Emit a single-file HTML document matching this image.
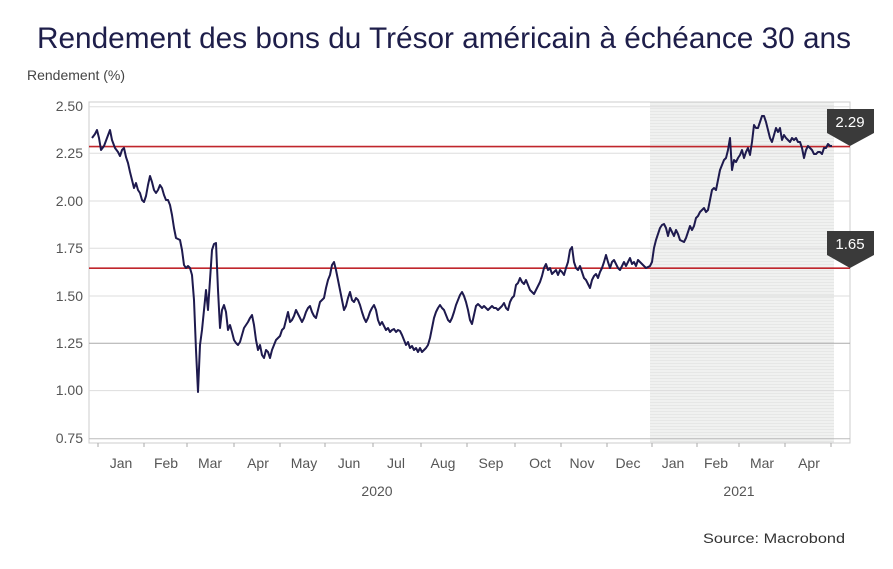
<!DOCTYPE html>
<html><head><meta charset="utf-8"><style>
body{margin:0;background:#fff;}
svg{display:block;font-family:"Liberation Sans",sans-serif;}
</style></head><body>
<svg width="893" height="569" viewBox="0 0 893 569" xmlns="http://www.w3.org/2000/svg">
<defs>
<pattern id="st" width="4" height="3" patternUnits="userSpaceOnUse"><rect width="4" height="3" fill="#f0f1f0"/><rect width="4" height="1" fill="#e6e7e6"/></pattern>
</defs>
<rect width="893" height="569" fill="#fff"/>
<text x="37" y="48" textLength="814" lengthAdjust="spacingAndGlyphs" font-size="30" fill="#1e1e4a">Rendement des bons du Trésor américain à échéance 30 ans</text>
<text x="27" y="80" font-size="14" fill="#444">Rendement (%)</text>
<rect x="650" y="102" width="184" height="341" fill="url(#st)"/>
<rect x="89" y="102" width="761" height="341" fill="none" stroke="#ccc" stroke-width="1"/>
<g stroke="#ddd" stroke-width="1">
<line x1="89" x2="850" y1="106.7" y2="106.7"/>
<line x1="89" x2="850" y1="153.3" y2="153.3"/>
<line x1="89" x2="850" y1="201" y2="201"/>
<line x1="89" x2="850" y1="248.3" y2="248.3"/>
<line x1="89" x2="850" y1="296" y2="296"/>
<line x1="89" x2="850" y1="343.2" y2="343.2" stroke="#aaa"/>
<line x1="89" x2="850" y1="390.6" y2="390.6"/>
<line x1="89" x2="850" y1="438.7" y2="438.7" stroke="#bbb"/>
</g>
<g font-size="14" fill="#555" text-anchor="end">
<text x="83" y="111">2.50</text><text x="83" y="158">2.25</text><text x="83" y="206">2.00</text><text x="83" y="253">1.75</text><text x="83" y="301">1.50</text><text x="83" y="348">1.25</text><text x="83" y="395">1.00</text><text x="83" y="443">0.75</text>
</g>
<g stroke="#aaa"><line x1="98" x2="98" y1="443" y2="447"/><line x1="144" x2="144" y1="443" y2="447"/><line x1="187" x2="187" y1="443" y2="447"/><line x1="234" x2="234" y1="443" y2="447"/><line x1="280" x2="280" y1="443" y2="447"/><line x1="325" x2="325" y1="443" y2="447"/><line x1="373" x2="373" y1="443" y2="447"/><line x1="421" x2="421" y1="443" y2="447"/><line x1="467" x2="467" y1="443" y2="447"/><line x1="515" x2="515" y1="443" y2="447"/><line x1="561" x2="561" y1="443" y2="447"/><line x1="607" x2="607" y1="443" y2="447"/><line x1="652" x2="652" y1="443" y2="447"/><line x1="697" x2="697" y1="443" y2="447"/><line x1="739" x2="739" y1="443" y2="447"/><line x1="785" x2="785" y1="443" y2="447"/><line x1="831" x2="831" y1="443" y2="447"/></g>
<g font-size="14" fill="#555" text-anchor="middle">
<text x="121" y="468">Jan</text><text x="166" y="468">Feb</text><text x="210" y="468">Mar</text><text x="258" y="468">Apr</text><text x="304" y="468">May</text><text x="349" y="468">Jun</text><text x="396" y="468">Jul</text><text x="443" y="468">Aug</text><text x="491" y="468">Sep</text><text x="540" y="468">Oct</text><text x="582" y="468">Nov</text><text x="628" y="468">Dec</text><text x="673" y="468">Jan</text><text x="716" y="468">Feb</text><text x="762" y="468">Mar</text><text x="809" y="468">Apr</text>
<text x="377" y="496">2020</text><text x="739" y="496">2021</text>
</g>
<line x1="89" x2="850" y1="146.6" y2="146.6" stroke="#c0262c" stroke-width="1.6"/>
<line x1="89" x2="850" y1="268.2" y2="268.2" stroke="#c0262c" stroke-width="1.6"/>
<polyline fill="none" stroke="#1e1a4e" stroke-width="2" stroke-linejoin="round" points="92,138 95,134 97,130 99,138 101,150 104,146 107,138 110,130 112,140 115,148 118,152 120,156 122,150 124,148 126,157 128,163 130,172 132,180 134,188 136,183 138,190 140,193 142,200 144,202 146,196 148,185 150,176 152,182 154,190 156,193 158,190 160,185 162,188 164,195 166,200 168,200 170,205 172,215 174,228 176,238 178,239 180,240 182,250 184,265 186,268 188,266 190,268 192,275 194,300 196,350 198,392 200,345 202,330 204,310 206,290 208,310 210,280 212,250 214,244 216,243 218,290 220,328 222,310 224,305 226,312 228,330 230,325 232,332 234,340 236,343 238,345 240,342 242,335 244,328 246,325 248,322 250,318 252,315 254,325 256,340 258,350 260,345 262,355 264,358 266,350 268,352 270,358 272,350 274,345 276,340 278,338 280,336 282,330 284,328 286,320 288,312 290,322 292,320 294,316 296,310 298,314 300,318 302,322 304,318 306,312 308,308 310,306 312,312 314,316 316,318 318,310 320,302 322,300 324,298 326,288 328,280 330,275 332,265 334,262 336,270 338,280 340,290 342,300 344,310 346,306 348,298 350,292 352,300 354,302 356,298 358,300 360,305 362,312 364,318 366,322 368,318 370,312 372,308 374,305 376,310 378,320 380,325 382,322 384,326 386,330 388,328 390,332 392,330 394,329 396,332 398,330 400,331 402,335 404,340 406,345 408,342 410,348 412,346 414,350 416,348 418,352 420,348 422,352 424,350 426,348 428,345 430,338 432,328 434,318 436,312 438,308 440,305 442,308 444,310 446,315 448,320 450,322 452,318 454,312 456,305 458,300 460,295 462,292 464,296 466,302 468,310 470,320 472,324 474,315 476,306 478,304 480,306 482,308 484,306 486,308 488,310 490,308 492,306 494,308 496,308 498,310 500,308 502,306 504,303 506,308 508,310 510,302 512,298 514,296 516,285 518,283 520,278 522,282 524,284 526,280 528,285 530,290 532,292 534,294 536,290 538,286 540,282 542,276 544,268 546,264 548,270 550,268 552,274 554,272 556,270 558,275 560,270 562,272 564,275 566,268 568,262 570,250 572,247 574,262 576,268 578,270 580,266 582,272 584,278 586,280 588,284 590,288 592,280 594,276 596,274 598,278 600,272 602,268 604,262 606,255 608,262 610,268 612,262 614,260 616,264 618,268 620,270 622,266 624,262 626,266 628,262 630,258 632,264 634,262 636,266 638,260 640,262 642,264 644,266 646,268 648,267 650,266 652,262 654,248 656,240 658,234 660,228 662,225 664,224 666,228 668,236 670,228 672,232 674,236 676,230 678,234 680,240 682,241 684,242 686,238 688,232 690,226 692,230 694,226 696,218 698,216 700,212 702,210 704,208 706,212 708,210 710,200 712,190 714,188 716,190 718,180 720,170 722,165 724,160 726,158 728,150 730,138 732,170 734,160 736,162 738,158 740,155 742,150 744,158 746,152 748,148 750,155 752,142 754,125 756,128 758,128 760,122 762,116 764,116 766,122 768,130 770,138 772,142 774,135 776,128 778,132 780,128 782,140 784,135 786,138 788,140 790,142 792,138 794,140 796,138 798,142 800,142 802,148 804,158 806,150 808,146 810,148 812,150 814,154 816,154 818,152 820,152 822,154 824,148 826,148 828,144 830,146 832,146"/>
<path d="M827,109 H874 V133 L850,146 L827,133 Z" fill="#3a3a3a"/>
<text x="850" y="127" text-anchor="middle" font-size="15" fill="#fff">2.29</text>
<path d="M827,231 H874 V255 L850,268 L827,255 Z" fill="#3a3a3a"/>
<text x="850" y="249" text-anchor="middle" font-size="15" fill="#fff">1.65</text>
<text x="703" y="543" textLength="142" lengthAdjust="spacingAndGlyphs" font-size="14" fill="#333">Source: Macrobond</text>
</svg>
</body></html>
